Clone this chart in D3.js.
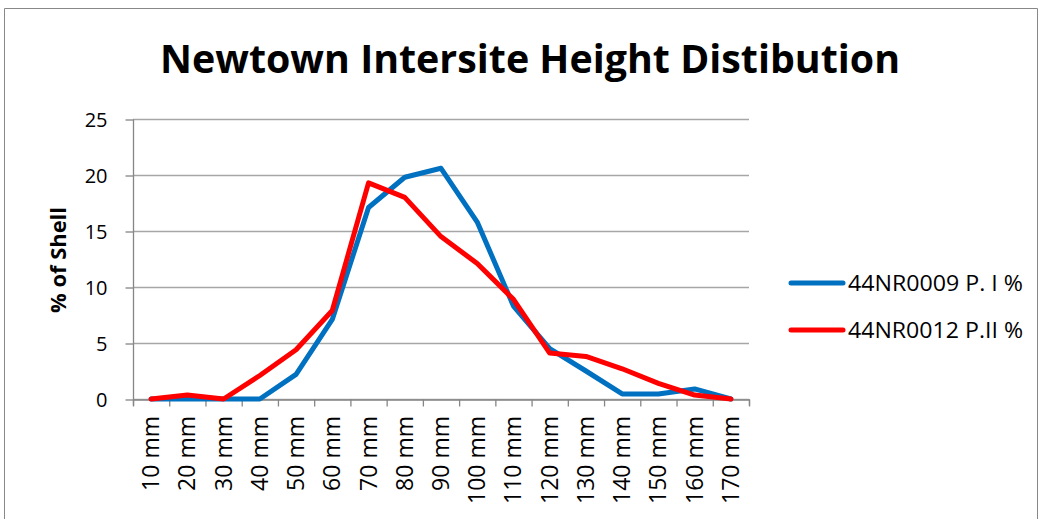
<!DOCTYPE html>
<html>
<head>
<meta charset="utf-8">
<script src="https://cdn.jsdelivr.net/npm/d3@7"></script>
<style>
body{margin:0;background:#fff}
text{font-family:"Open Sans",Lato,sans-serif}
</style>
</head>
<body>
<div id="chart"></div>
<script>
const categories=["10 mm","20 mm","30 mm","40 mm","50 mm","60 mm","70 mm","80 mm","90 mm","100 mm","110 mm","120 mm","130 mm","140 mm","150 mm","160 mm","170 mm"]
const seriesNames=["44NR0009 P. I %","44NR0012 P.II %"]
const seriesP1=[0,0,0,0,2.2,7.1,17.1,19.8,20.6,15.8,8.3,4.5,2.5,0.45,0.45,0.9,0]
const seriesP2=[0,0.35,0,2.1,4.4,7.9,19.3,18.0,14.5,12.1,8.9,4.1,3.8,2.7,1.4,0.35,0]
const yTicks=[0,5,10,15,20,25]
const colors=["#0070C0","#FF0000"]

const width=1042
const height=519

const svg=d3.select("#chart")
.append("svg")
.attr("width",width)
.attr("height",height)

// chart frame
svg.append("path")
.attr("d","M4.5,519 V8.5 H1037.5 V519")
.attr("fill","none")
.attr("stroke","#888")
.attr("stroke-width",1)

svg.append("text")
.attr("x",530)
.attr("y",73)
.attr("text-anchor","middle")
.attr("font-size",40)
.attr("font-weight","bold")
.attr("textLength",740)
.attr("lengthAdjust","spacingAndGlyphs")
.text("Newtown Intersite Height Distibution")

const x=d3.scaleBand()
.domain(categories)
.range([133,749])

const y=d3.scaleLinear()
.domain([0,25])
.range([399,119])

// gridlines
svg.append("g")
.selectAll("line")
.data(yTicks)
.enter()
.append("line")
.attr("x1",133)
.attr("x2",749)
.attr("y1",d=>y(d)+0.5)
.attr("y2",d=>y(d)+0.5)
.attr("stroke","#a6a6a6")
.attr("stroke-width",1.3)

// y axis
const yAxis=svg.append("g")
.attr("transform","translate(133.5,0.5)")
.call(d3.axisLeft(y).tickValues(yTicks).tickSize(8).tickPadding(18))
yAxis.select(".domain").attr("stroke","#868686").attr("stroke-width",1.3).attr("d","M0,"+y(25)+"V"+y(0))
yAxis.selectAll(".tick line").attr("stroke","#868686").attr("stroke-width",1.3)
yAxis.selectAll(".tick text").attr("font-size",20).attr("fill","#000").attr("dy","0.36em").style("font-family","'Open Sans', sans-serif")

// x axis
const xAxis=svg.append("g")
.attr("transform","translate(0,"+(y(0)+0.5)+")")
.call(d3.axisBottom(x).tickSize(6).tickSizeOuter(6).tickFormat(""))
xAxis.select(".domain").attr("stroke","#868686").attr("stroke-width",1.3)
xAxis.selectAll(".tick line").remove()
xAxis.selectAll(".bound")
.data(d3.range(categories.length+1))
.enter()
.append("line")
.attr("x1",i=>133+i*x.step()+0.5)
.attr("x2",i=>133+i*x.step()+0.5)
.attr("y1",0)
.attr("y2",7)
.attr("stroke","#868686")
.attr("stroke-width",1.3)

svg.append("g")
.selectAll("text")
.data(categories)
.enter()
.append("text")
.attr("transform",d=>"translate("+(x(d)+x.bandwidth()/2+8)+",416) rotate(-90)")
.attr("text-anchor","end")
.attr("font-size",23)
.text(d=>d)

// y axis title
svg.append("text")
.attr("transform","translate(66,260) rotate(-90)")
.attr("text-anchor","middle")
.attr("font-size",21)
.attr("font-weight","bold")
.attr("textLength",106)
.attr("lengthAdjust","spacingAndGlyphs")
.text("% of Shell")

// lines
const line=d3.line()
.x((d,i)=>x(categories[i])+x.bandwidth()/2)
.y(d=>y(d))

const series=[seriesP1,seriesP2]
svg.append("g")
.selectAll("path")
.data(series)
.enter()
.append("path")
.attr("d",d=>line(d))
.attr("fill","none")
.attr("stroke",(d,i)=>colors[i])
.attr("stroke-width",5)
.attr("stroke-linejoin","round")
.attr("stroke-linecap","round")

// legend
const legend=svg.append("g")
.selectAll("g")
.data(seriesNames)
.enter()
.append("g")
.attr("transform",(d,i)=>"translate(791,"+(283+i*47)+")")

legend.append("line")
.attr("x1",0)
.attr("x2",52)
.attr("stroke",(d,i)=>colors[i])
.attr("stroke-width",5)
.attr("stroke-linecap","round")

legend.append("text")
.attr("x",57)
.attr("dy","0.36em")
.attr("font-size",22)
.attr("textLength",(d,i)=>i==0?175:175)
.attr("lengthAdjust","spacingAndGlyphs")
.text(d=>d)
</script>
</body>
</html>
